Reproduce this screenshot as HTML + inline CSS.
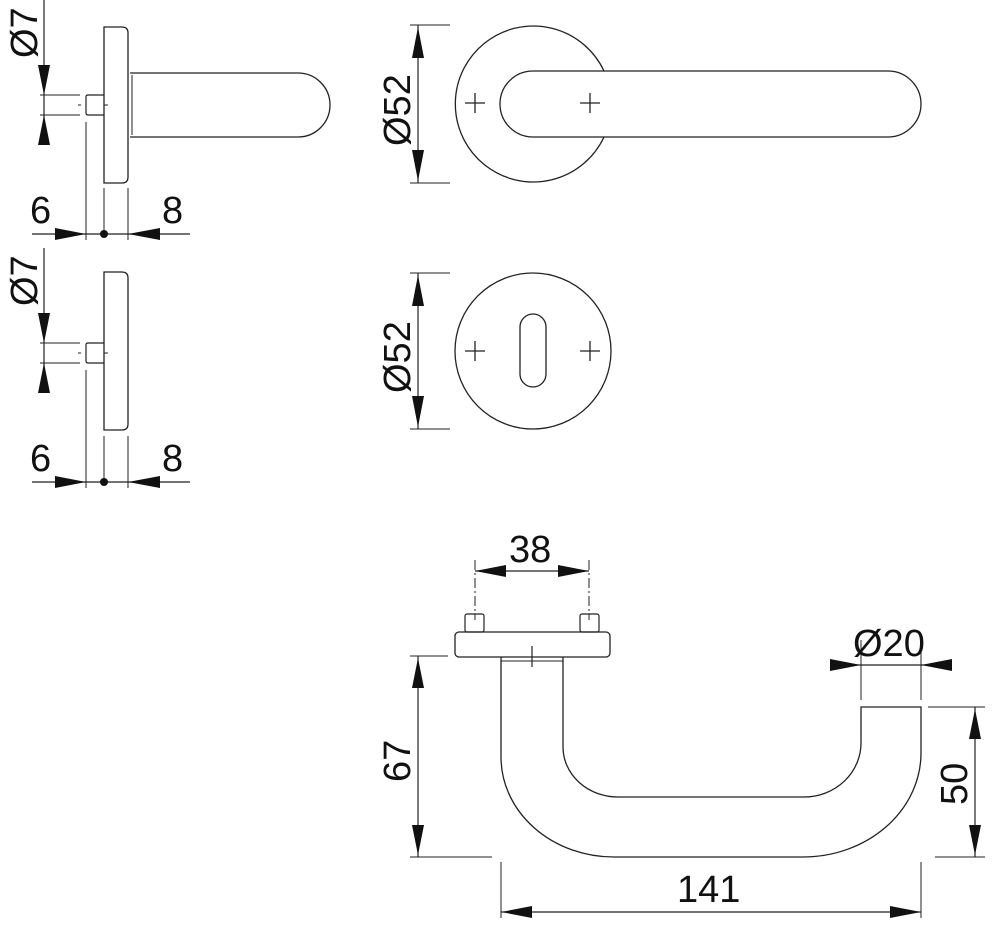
<!DOCTYPE html>
<html><head><meta charset="utf-8"><style>
html,body{margin:0;padding:0;background:#fff;}
svg{display:block;}
text{font-family:"Liberation Sans",sans-serif;font-size:38px;fill:#111;}
</style></head><body>
<svg width="1000" height="930" viewBox="0 0 1000 930" xmlns="http://www.w3.org/2000/svg">
<defs>
<g id="side">
  <line x1="44" y1="0" x2="44" y2="145" stroke="#222" stroke-width="1.2"/>
  <polygon points="38,65 50,65 44,95" fill="#111"/>
  <polygon points="38,145 50,145 44,115" fill="#111"/>
  <line x1="40" y1="95" x2="80" y2="95" stroke="#222" stroke-width="1"/>
  <line x1="40" y1="115" x2="80" y2="115" stroke="#222" stroke-width="1"/>
  <path d="M104,95 L88,95 Q86,95 86,97 L86,113 Q86,115 88,115 L104,115" fill="none" stroke="#222" stroke-width="1.2"/>
  <line x1="78" y1="105" x2="81" y2="105" stroke="#222" stroke-width="1"/>
  <line x1="104" y1="105" x2="108" y2="105" stroke="#222" stroke-width="1"/>
  <line x1="86" y1="122" x2="86" y2="240" stroke="#222" stroke-width="1"/>
  <line x1="104" y1="188" x2="104" y2="234" stroke="#222" stroke-width="1"/>
  <line x1="128" y1="188" x2="128" y2="240" stroke="#222" stroke-width="1"/>
  <line x1="32" y1="234" x2="190" y2="234" stroke="#222" stroke-width="1.2"/>
  <polygon points="55,228 55,240 86,234" fill="#111"/>
  <polygon points="160,228 160,240 128,234" fill="#111"/>
  <circle cx="104" cy="234" r="4" fill="#111"/>
  <text x="30" y="223">6</text>
  <text x="162" y="223">8</text>
  <text transform="translate(37,58) rotate(-90)" font-size="34">Ø7</text>
</g>
</defs>

<use href="#side"/>
<path d="M104,27 L122,27 Q128,27 128,33 L128,177 Q128,183 122,183 L104,183 Z" fill="none" stroke="#222" stroke-width="1.3"/>
<path d="M130,73 L298,73 A32,32 0 0 1 298,137 L130,137" fill="none" stroke="#222" stroke-width="1.3"/>
<line x1="132" y1="75" x2="132" y2="135" stroke="#222" stroke-width="1"/>

<g transform="translate(0,248)"><use href="#side"/></g>
<path d="M104,272 L122,272 Q128,272 128,278 L128,424 Q128,430 122,430 L104,430 Z" fill="none" stroke="#222" stroke-width="1.3"/>

<path d="M604,71 A78,78 0 1 0 604,137" fill="none" stroke="#222" stroke-width="1.3"/>
<path d="M533,71 L888,71 A33,33 0 0 1 888,137 L533,137 A33,33 0 0 1 533,71 Z" fill="none" stroke="#222" stroke-width="1.3"/>
<g stroke="#222" stroke-width="1.3">
<line x1="465" y1="103" x2="485" y2="103"/><line x1="475" y1="93" x2="475" y2="113"/>
<line x1="580" y1="103" x2="600" y2="103"/><line x1="590" y1="93" x2="590" y2="113"/>
</g>
<line x1="418" y1="25" x2="418" y2="183" stroke="#222" stroke-width="1.2"/>
<line x1="410" y1="25" x2="450" y2="25" stroke="#222" stroke-width="1"/>
<line x1="410" y1="183" x2="450" y2="183" stroke="#222" stroke-width="1"/>
<polygon points="412,58 424,58 418,27" fill="#111"/>
<polygon points="412,150 424,150 418,181" fill="#111"/>
<text transform="translate(410,146) rotate(-90)">Ø52</text>

<circle cx="533" cy="351" r="78" fill="none" stroke="#222" stroke-width="1.3"/>
<rect x="520" y="314" width="26" height="73" rx="13" fill="none" stroke="#222" stroke-width="1.3"/>
<g stroke="#222" stroke-width="1.3">
<line x1="465" y1="351" x2="485" y2="351"/><line x1="475" y1="341" x2="475" y2="361"/>
<line x1="580" y1="351" x2="600" y2="351"/><line x1="590" y1="341" x2="590" y2="361"/>
</g>
<line x1="418" y1="273" x2="418" y2="429" stroke="#222" stroke-width="1.2"/>
<line x1="410" y1="273" x2="450" y2="273" stroke="#222" stroke-width="1"/>
<line x1="410" y1="429" x2="450" y2="429" stroke="#222" stroke-width="1"/>
<polygon points="412,306 424,306 418,275" fill="#111"/>
<polygon points="412,396 424,396 418,427" fill="#111"/>
<text transform="translate(410,393) rotate(-90)">Ø52</text>

<line x1="475" y1="560" x2="475" y2="620" stroke="#222" stroke-width="1" stroke-dasharray="10,3,2,3"/>
<line x1="589" y1="560" x2="589" y2="620" stroke="#222" stroke-width="1" stroke-dasharray="10,3,2,3"/>
<line x1="475" y1="571" x2="589" y2="571" stroke="#222" stroke-width="1.2"/>
<polygon points="475,571 506,565 506,577" fill="#111"/>
<polygon points="589,571 558,565 558,577" fill="#111"/>
<text x="509" y="562">38</text>
<rect x="465" y="614" width="19" height="18" rx="2" fill="none" stroke="#222" stroke-width="1.2"/>
<rect x="580" y="614" width="19" height="18" rx="2" fill="none" stroke="#222" stroke-width="1.2"/>
<rect x="455" y="632" width="155" height="25" rx="4" fill="none" stroke="#222" stroke-width="1.3"/>
<line x1="501" y1="661" x2="563" y2="661" stroke="#222" stroke-width="1"/>
<line x1="532" y1="646" x2="532" y2="667" stroke="#222" stroke-width="1.2"/>
<path d="M501,657 L501,757 A113,100 0 0 0 614,857 L803,857 A118,104 0 0 0 921,753 L921,707 L861,707 L861,743 A57,54 0 0 1 804,797 L618,797 A55,50 0 0 1 563,747 L563,657" fill="none" stroke="#222" stroke-width="1.3"/>

<line x1="861" y1="640" x2="861" y2="700" stroke="#222" stroke-width="1"/>
<line x1="921" y1="640" x2="921" y2="700" stroke="#222" stroke-width="1"/>
<line x1="830" y1="665" x2="952" y2="665" stroke="#222" stroke-width="1.2"/>
<polygon points="830,659 830,671 861,665" fill="#111"/>
<polygon points="952,659 952,671 921,665" fill="#111"/>
<text x="853" y="656">Ø20</text>

<line x1="418" y1="656" x2="418" y2="857" stroke="#222" stroke-width="1.2"/>
<line x1="410" y1="656" x2="448" y2="656" stroke="#222" stroke-width="1"/>
<line x1="410" y1="857" x2="492" y2="857" stroke="#222" stroke-width="1"/>
<polygon points="412,688 424,688 418,658" fill="#111"/>
<polygon points="412,825 424,825 418,855" fill="#111"/>
<text transform="translate(410,782) rotate(-90)">67</text>

<line x1="975" y1="707" x2="975" y2="857" stroke="#222" stroke-width="1.2"/>
<line x1="928" y1="707" x2="985" y2="707" stroke="#222" stroke-width="1"/>
<line x1="935" y1="857" x2="985" y2="857" stroke="#222" stroke-width="1"/>
<polygon points="969,739 981,739 975,709" fill="#111"/>
<polygon points="969,825 981,825 975,855" fill="#111"/>
<text transform="translate(967,805) rotate(-90)">50</text>

<line x1="501" y1="862" x2="501" y2="918" stroke="#222" stroke-width="1"/>
<line x1="921" y1="862" x2="921" y2="918" stroke="#222" stroke-width="1"/>
<line x1="501" y1="912" x2="921" y2="912" stroke="#222" stroke-width="1.2"/>
<polygon points="501,912 532,906 532,918" fill="#111"/>
<polygon points="921,912 890,906 890,918" fill="#111"/>
<text x="677" y="902">141</text>
</svg>
</body></html>
